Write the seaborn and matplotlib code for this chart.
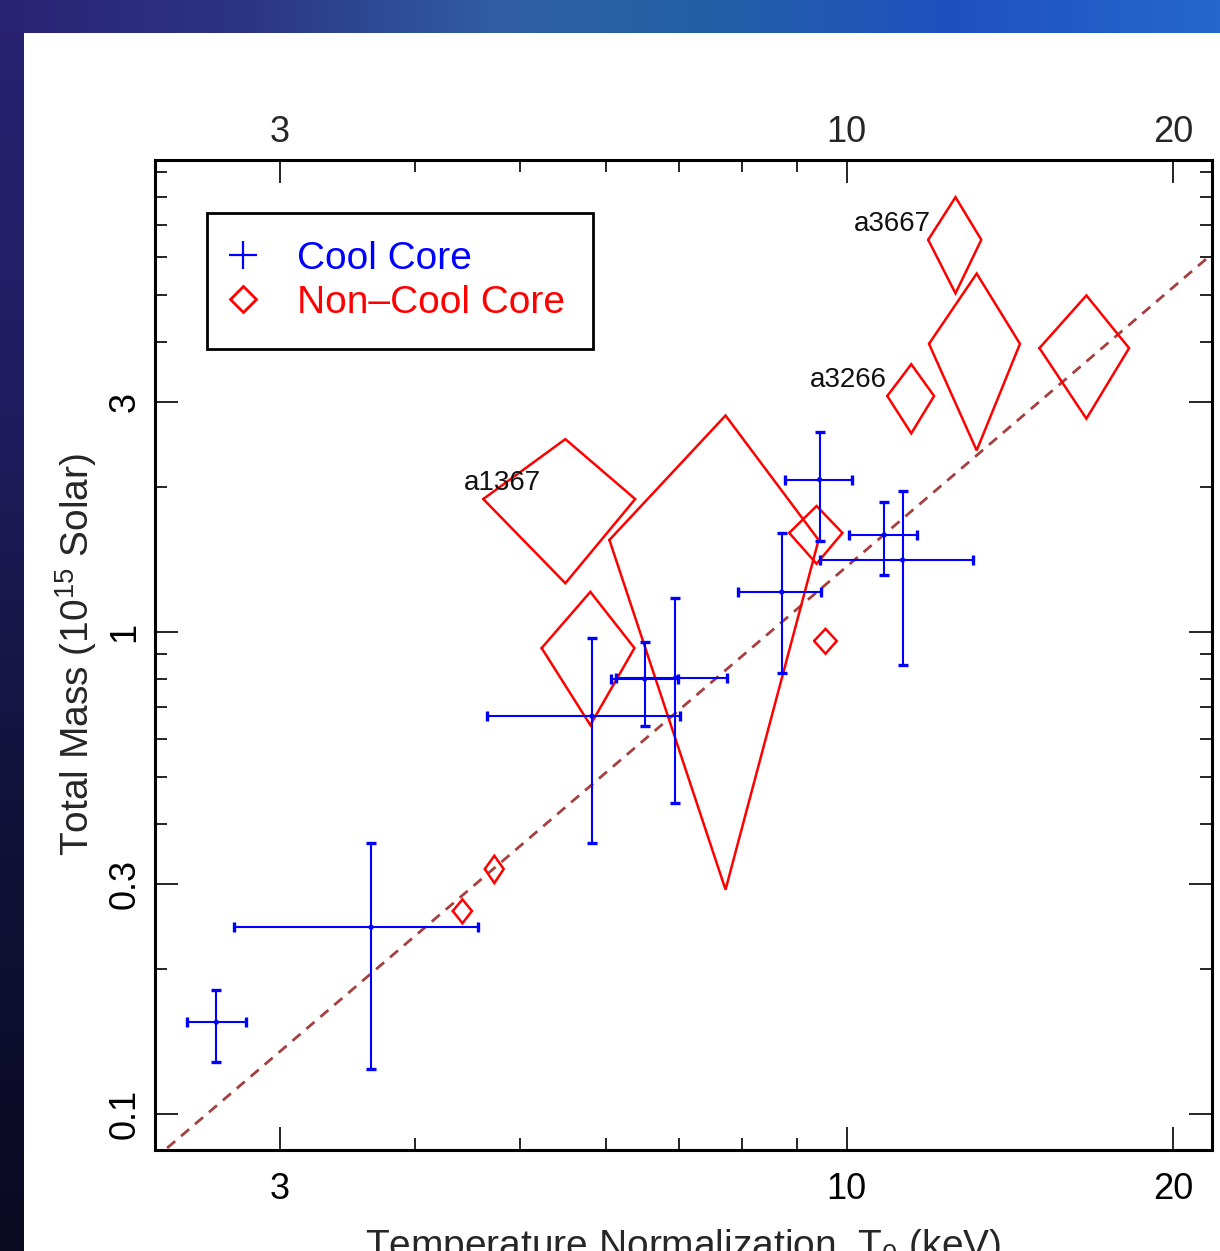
import numpy as np
import pandas as pd
import matplotlib
matplotlib.use("Agg")
import matplotlib.pyplot as plt
from matplotlib.lines import Line2D
from matplotlib.ticker import FixedLocator, FixedFormatter, NullFormatter
import seaborn as sns

# ---------------- data ----------------
# Cool-core clusters: temperature (keV) + bounds, total mass (1e15 Msun) + bounds
cc_T    = [2.62, 3.64, 5.82, 6.51, 6.95, 8.71, 9.44, 10.83, 11.26]
cc_T_lo = [2.46, 2.72, 4.66, 6.06, 6.13, 7.93, 8.78, 10.04, 9.44]
cc_T_hi = [2.79, 4.57, 7.01, 6.99, 7.76, 9.47, 10.12, 11.62, 13.09]
cc_M    = [0.155, 0.244, 0.669, 0.799, 0.803, 1.21, 2.07, 1.59, 1.41]
cc_M_lo = [0.128, 0.124, 0.365, 0.638, 0.442, 0.822, 1.545, 1.313, 0.854]
cc_M_hi = [0.181, 0.365, 0.972, 0.953, 1.176, 1.605, 2.60, 1.861, 1.961]

# Non-cool-core clusters: centre and half-widths (diamond vertices)
ncc_T  = [12.6, 13.18, 16.64, 11.47, 5.50, 7.73, 5.80, 9.38, 9.56, 4.42, 4.73]
ncc_dT = [0.71, 1.27, 1.58, 0.57, 0.88, 1.69, 0.57, 0.53, 0.23, 0.09, 0.095]
ncc_M  = [6.51, 3.96, 3.88, 3.087, 1.887, 1.552, 0.926, 1.605, 0.958, 0.2637, 0.3223]
ncc_dM = [1.47, 1.58, 1.11, 0.505, 0.625, 1.26, 0.285, 0.22, 0.057, 0.015, 0.021]

# labelled clusters (index into ncc arrays)
ncc_names = ["a3667", "a3266", "a1367"]
ncc_name_idx = [0, 3, 4]

# fitted scaling relation (dashed line end points)
fit_T = [2.36, 21.8]
fit_M = [0.085, 6.12]

x_major = [3, 10, 20]
x_minor = [4, 5, 6, 7, 8, 9]
y_major = [0.1, 0.3, 1, 3]
y_major_labels = ["0.1", "0.3", "1", "3"]
y_minor = [0.2, 0.4, 0.5, 0.6, 0.7, 0.8, 0.9, 2, 4, 5, 6, 7, 8, 9]

# ---------------- style ----------------
sns.set_style("ticks")
plt.rcParams["font.family"] = ["Liberation Sans", "DejaVu Sans"]
plt.rcParams["mathtext.fontset"] = "custom"
plt.rcParams["mathtext.rm"] = "Liberation Sans"
plt.rcParams["mathtext.it"] = "Liberation Sans:italic"
plt.rcParams["mathtext.bf"] = "Liberation Sans:bold"

W, H = 1220, 1251
fig = plt.figure(figsize=(W / 100, H / 100), dpi=100)

# slide background: gradient bands on top and left, white panel
bg = np.ones((H, W, 3))
def hexrgb(h):
    h = h.lstrip("#")
    return np.array([int(h[i:i + 2], 16) / 255 for i in (0, 2, 4)])
top_stops_x = [0, 250, 500, 700, 950, 1220]
top_cols = [hexrgb(c) for c in ["#2a2275", "#2c3585", "#305ea5", "#2460a5", "#2050c0", "#2468cc"]]
xs = np.arange(W)
top_band = np.stack([np.interp(xs, top_stops_x, [c[k] for c in top_cols]) for k in range(3)], axis=1)
bg[:33, :, :] = top_band[None, :, :]
left_stops_y = [0, 400, 800, 1251]
left_cols = [hexrgb(c) for c in ["#2a2272", "#201d60", "#12123a", "#0a0a22"]]
ys = np.arange(H)
left_band = np.stack([np.interp(ys, left_stops_y, [c[k] for c in left_cols]) for k in range(3)], axis=1)
bg[:, :24, :] = left_band[:, None, :]
bg[:33, :24, :] = left_band[:33, None, :] * 0.5 + top_band[None, :24, :] * 0.5
fig.figimage(bg, 0, 0, origin="upper", zorder=-5)

ax = fig.add_axes([155 / W, 1 - 1150 / H, (1212 - 155) / W, (1150 - 160) / H])
ax.set_facecolor("white")
ax.set_xscale("log")
ax.set_yscale("log")
xlim = (2.30, 21.73)
ax.set_xlim(*xlim)
ax.set_ylim(0.0842, 9.53)

# dashed scaling relation
sns.lineplot(x=fit_T, y=fit_M, ax=ax, color="#a5403f", lw=2.0,
             linestyle=(0, (3.8, 2.8)), zorder=2, legend=False)

# non-cool-core diamonds
for T, dT, M, dM in zip(ncc_T, ncc_dT, ncc_M, ncc_dM):
    ax.plot([T - dT, T, T + dT, T, T - dT], [M, M + dM, M, M - dM, M],
            color="red", lw=1.8, zorder=3, solid_joinstyle="miter")

# cool-core error bars
cc_T_a = np.array(cc_T); cc_M_a = np.array(cc_M)
xerr = [cc_T_a - np.array(cc_T_lo), np.array(cc_T_hi) - cc_T_a]
yerr = [cc_M_a - np.array(cc_M_lo), np.array(cc_M_hi) - cc_M_a]
ax.errorbar(cc_T, cc_M, xerr=xerr, yerr=yerr, fmt="none", ecolor="blue",
            elinewidth=1.5, capsize=3.8, capthick=2.4, zorder=4)
sns.scatterplot(x=cc_T, y=cc_M, ax=ax, color="blue", s=14, marker="o",
                edgecolor="none", zorder=5, legend=False)

# annotations
for name, i in zip(ncc_names, ncc_name_idx):
    ax.text(ncc_T[i] * 0.95, ncc_M[i] * 1.08, name, ha="right", va="center",
            fontsize=20, color="#111111")

# ticks (bottom / left / right on main axes)
def set_x_ticks(a):
    a.xaxis.set_major_locator(FixedLocator(x_major))
    a.xaxis.set_major_formatter(FixedFormatter([str(v) for v in x_major]))
    a.xaxis.set_minor_locator(FixedLocator(x_minor))
    a.xaxis.set_minor_formatter(NullFormatter())

set_x_ticks(ax)
ax.yaxis.set_major_locator(FixedLocator(y_major))
ax.yaxis.set_major_formatter(FixedFormatter(y_major_labels))
ax.yaxis.set_minor_locator(FixedLocator(y_minor))
ax.yaxis.set_minor_formatter(NullFormatter())
ax.tick_params(which="both", direction="in", top=False, right=True,
               labeltop=False, labelbottom=True, labelleft=True, labelright=False,
               color="black", labelcolor="black")
ax.tick_params(which="major", length=16.5, width=1.2, labelsize=26)
ax.tick_params(which="minor", length=8.6, width=1.2)
ax.tick_params(axis="x", which="major", pad=15.5)
ax.tick_params(axis="y", which="major", pad=9, labelrotation=90)
for lab in ax.get_yticklabels():
    lab.set_va("center")
for s in ax.spines.values():
    s.set_linewidth(2.2)
    s.set_color("black")

# top axis (own label spacing)
ax_top = ax.twiny()
ax_top.set_xscale("log")
ax_top.set_xlim(*xlim)
set_x_ticks(ax_top)
ax_top.tick_params(which="both", direction="in", top=True, bottom=False,
                   labeltop=True, labelbottom=False, color="black")
ax_top.tick_params(which="major", length=16.5, width=1.2, labelsize=26, pad=7.5)
ax_top.tick_params(which="minor", length=8.6, width=1.2)
for s in ax_top.spines.values():
    s.set_visible(False)

ax.set_xlabel("Temperature Normalization, T$_0$ (keV)", fontsize=28, labelpad=15)
ax.set_ylabel("Total Mass (10$^{15}$ Solar)", fontsize=28, labelpad=6)

# legend
handles = [Line2D([], [], ls="none", marker="+", color="blue", markersize=20, mew=1.6),
           Line2D([], [], ls="none", marker="D", markerfacecolor="none",
                  markeredgecolor="red", markersize=13, mew=2)]
leg = ax.legend(handles, ["Cool Core", "Non\u2013Cool Core"], loc="upper left",
                bbox_to_anchor=((207 - 155) / 1057, (1150 - 213) / 990),
                borderaxespad=0, fontsize=28, labelcolor=["blue", "red"],
                frameon=True, fancybox=False, edgecolor="black", framealpha=1,
                borderpad=0.72, labelspacing=0.2, handletextpad=1.18,
                handlelength=0.41)
leg.get_frame().set_linewidth(2)
leg.set_zorder(10)

fig.savefig("out.png", dpi=100)
